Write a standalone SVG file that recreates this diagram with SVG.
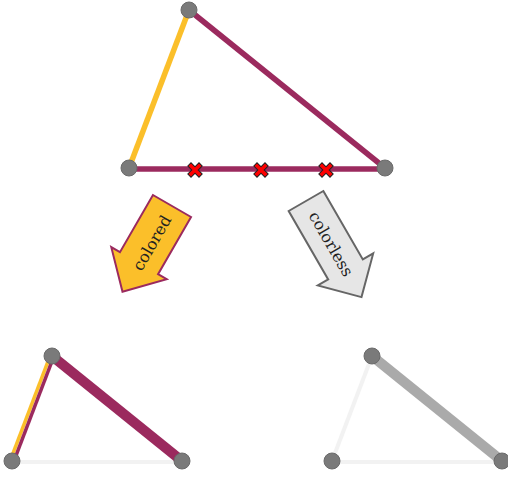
<svg xmlns="http://www.w3.org/2000/svg" width="508" height="477" viewBox="0 0 508 477">
<style>
.node{fill:#7a7a7a;stroke:#6a6a6a;stroke-width:1}
.e{fill:none;stroke-linecap:butt}
.lbl{font-family:"DejaVu Serif","Liberation Serif",serif;font-size:16px;fill:#222;text-anchor:middle;dominant-baseline:central}
</style>
<defs>
<g id="xmark">
<path d="M-4,-4 L4,4 M4,-4 L-4,4" stroke="#222" stroke-width="5.5" stroke-linecap="square"/>
<path d="M-4,-4 L4,4 M4,-4 L-4,4" stroke="#f00" stroke-width="3.5" stroke-linecap="square"/>
</g>
<path id="arrowShape" d="M0,-22 L66,-22 L66,-32 L99,0 L66,32 L66,22 L0,22 Z"/>
<path id="arrowShape2" d="M0,-20 L79,-20 L79,-32 L111,0 L79,32 L79,20 L0,20 Z"/>
</defs>
<g id="connectors">
<line class="e" x1="129" y1="168" x2="189" y2="10" stroke="#fbbf2a" stroke-width="5.5"/>
<line class="e" x1="189" y1="10" x2="385" y2="168" stroke="#9b2a5e" stroke-width="5.5"/>
<line class="e" x1="129" y1="169" x2="385" y2="169" stroke="#9b2a5e" stroke-width="5.5"/>
<line class="e" x1="12" y1="462" x2="182" y2="462" stroke="#f2f2f2" stroke-width="4"/>
<line class="e" x1="50.3" y1="355.4" x2="10.3" y2="460.4" stroke="#fbbf2a" stroke-width="3.5"/>
<line class="e" x1="53.7" y1="356.6" x2="13.7" y2="461.6" stroke="#9b2a5e" stroke-width="3.5"/>
<line class="e" x1="52" y1="356" x2="182" y2="461" stroke="#9b2a5e" stroke-width="10"/>
<line class="e" x1="332" y1="462" x2="502" y2="462" stroke="#f2f2f2" stroke-width="4"/>
<line class="e" x1="372" y1="356" x2="332" y2="461" stroke="#f2f2f2" stroke-width="4"/>
<line class="e" x1="372" y1="356" x2="502" y2="461" stroke="#aaaaaa" stroke-width="10"/>
</g>
<g id="marks">
<use href="#xmark" x="195" y="170"/>
<use href="#xmark" x="261" y="170"/>
<use href="#xmark" x="326" y="170"/>
</g>
<g id="arrow-colored">
<use href="#arrowShape" transform="translate(172,206) rotate(120)" fill="#fbbf2a" stroke="#9b2a5e" stroke-width="2"/>
<text class="lbl" transform="translate(152,243) rotate(-60)">colored</text>
</g>
<g id="arrow-colorless">
<use href="#arrowShape2" transform="translate(306,201) rotate(60)" fill="#e6e6e6" stroke="#666" stroke-width="2"/>
<text class="lbl" transform="translate(331,244) rotate(60)">colorless</text>
</g>
<g id="n1"><circle class="node" cx="189" cy="10" r="8"/></g>
<g id="n2"><circle class="node" cx="129" cy="168" r="8"/></g>
<g id="n3"><circle class="node" cx="385" cy="168" r="8"/></g>
<g id="n4"><circle class="node" cx="52" cy="356" r="8"/></g>
<g id="n5"><circle class="node" cx="12" cy="461" r="8"/></g>
<g id="n6"><circle class="node" cx="182" cy="461" r="8"/></g>
<g id="n7"><circle class="node" cx="372" cy="356" r="8"/></g>
<g id="n8"><circle class="node" cx="332" cy="461" r="8"/></g>
<g id="n9"><circle class="node" cx="502" cy="461" r="8"/></g>
</svg>
